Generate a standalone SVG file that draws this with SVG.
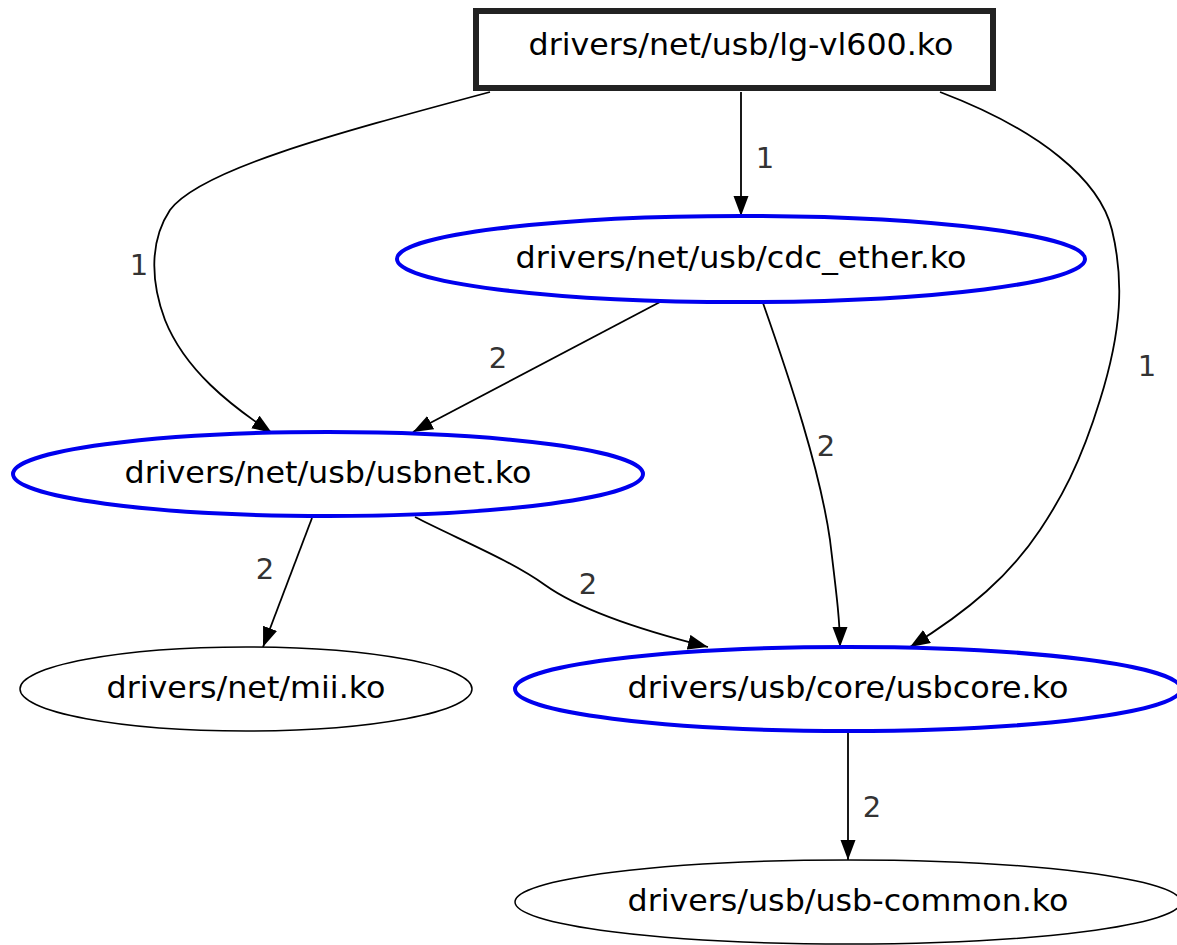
<svg xmlns="http://www.w3.org/2000/svg" width="1177" height="945" viewBox="0 0 1177 945">
  <style>
    text { font-family: "DejaVu Sans", "Liberation Sans", sans-serif; fill: #000; }
    .node-label { font-size: 30px; text-anchor: middle; }
    .edge-label { font-size: 29px; text-anchor: middle; fill: #333; }
    .blue { fill: #fff; stroke: #0000ee; stroke-width: 4; }
    .plain { fill: #fff; stroke: #000; stroke-width: 1.5; }
    .edge { fill: none; stroke: #000; stroke-width: 1.8; marker-end: url(#arrow); }
  </style>
  <defs>
    <marker id="arrow" markerUnits="userSpaceOnUse" markerWidth="22" markerHeight="16" refX="20" refY="7.5" orient="auto">
      <polygon points="0,0 20,7.5 0,15" fill="#000"/>
    </marker>
  </defs>
  <rect width="1177" height="945" fill="#fff"/>

  <!-- dependency edges with their weights -->
  <g id="edges">
    <path class="edge" d="M741,92 L741,216"/>
    <path class="edge" d="M490,92 C330,135 200,170 170,210 C150,240 150,280 165,320 C185,370 230,405 272,433"/>
    <path class="edge" d="M940,92 C1040,130 1100,180 1112,230 C1124,280 1122,330 1100,400 C1080,465 1060,500 1040,530 C1010,575 970,610 910,647"/>
    <path class="edge" d="M660,302 L413,432"/>
    <path class="edge" d="M763,303 C790,380 820,470 830,540 C836,590 840,620 840,647"/>
    <path class="edge" d="M312,518 L263,647"/>
    <path class="edge" d="M415,517 C460,540 510,560 545,585 C580,610 640,630 708,647"/>
    <path class="edge" d="M848,732 L848,860"/>
    <text class="edge-label" x="765" y="168">1</text>
    <text class="edge-label" x="139" y="275">1</text>
    <text class="edge-label" x="1147" y="376">1</text>
    <text class="edge-label" x="498" y="368">2</text>
    <text class="edge-label" x="826" y="456">2</text>
    <text class="edge-label" x="265" y="579">2</text>
    <text class="edge-label" x="588" y="594">2</text>
    <text class="edge-label" x="872" y="817">2</text>
  </g>

  <g id="node-lg-vl600">
    <rect x="476" y="11" width="517" height="77" fill="#fff" stroke="#222" stroke-width="6"/>
    <text class="node-label" x="741" y="55" textLength="425" lengthAdjust="spacingAndGlyphs">drivers/net/usb/lg-vl600.ko</text>
  </g>
  <g id="node-cdc-ether">
    <ellipse class="blue" cx="741" cy="259" rx="344" ry="43"/>
    <text class="node-label" x="741" y="268" textLength="451" lengthAdjust="spacingAndGlyphs">drivers/net/usb/cdc_ether.ko</text>
  </g>
  <g id="node-usbnet">
    <ellipse class="blue" cx="328" cy="474" rx="315" ry="42"/>
    <text class="node-label" x="328" y="483" textLength="407" lengthAdjust="spacingAndGlyphs">drivers/net/usb/usbnet.ko</text>
  </g>
  <g id="node-mii">
    <ellipse class="plain" cx="246" cy="689" rx="226" ry="42"/>
    <text class="node-label" x="246" y="698" textLength="279" lengthAdjust="spacingAndGlyphs">drivers/net/mii.ko</text>
  </g>
  <g id="node-usbcore">
    <ellipse class="blue" cx="848" cy="689" rx="333" ry="42"/>
    <text class="node-label" x="848" y="698" textLength="441" lengthAdjust="spacingAndGlyphs">drivers/usb/core/usbcore.ko</text>
  </g>
  <g id="node-usb-common">
    <ellipse class="plain" cx="848" cy="902" rx="333" ry="42"/>
    <text class="node-label" x="848" y="911" textLength="441" lengthAdjust="spacingAndGlyphs">drivers/usb/usb-common.ko</text>
  </g>
</svg>
